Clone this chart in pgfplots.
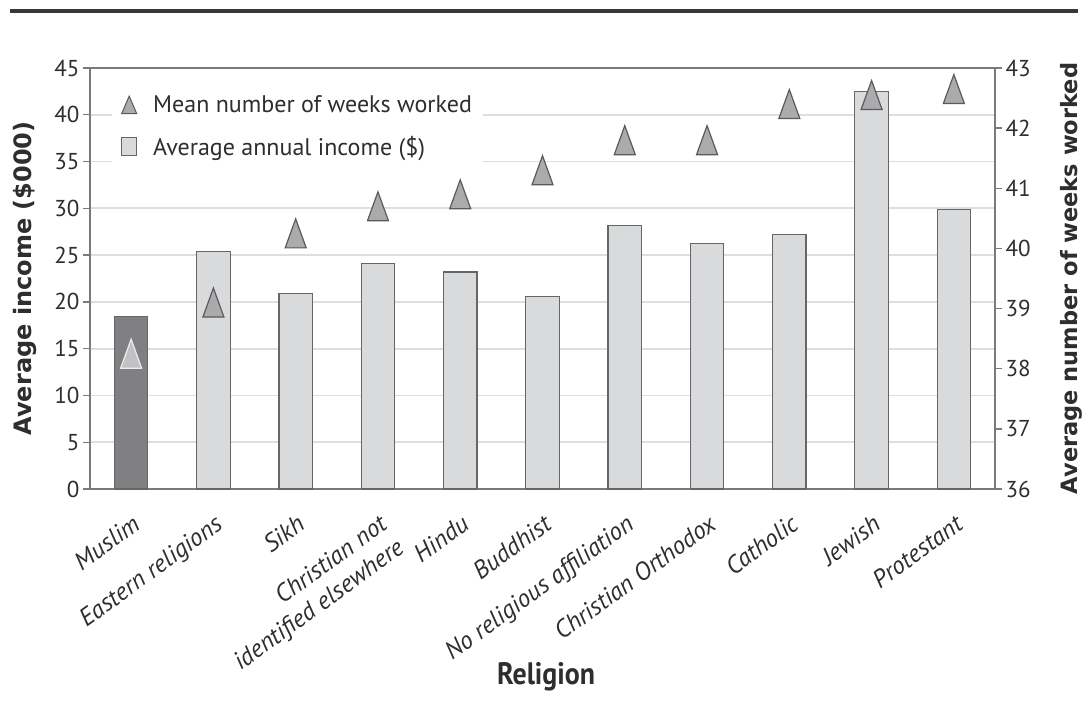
\documentclass[border=0pt]{standalone}
\usepackage{fontspec}
\setmainfont{PT Sans}
\newfontfamily\labelfont{DejaVu Sans}
\usepackage{graphicx}
\usepackage{pgfplots}
\usepackage{pgfplotstable}
\pgfplotsset{compat=1.18}

\definecolor{txt}{HTML}{2E2E2E}
\definecolor{rule}{HTML}{383838}
\definecolor{axisgray}{HTML}{7A7A7A}
\definecolor{gridgray}{HTML}{DEDEDE}
\definecolor{barfill}{HTML}{D9DADC}
\definecolor{baredge}{HTML}{666666}
\definecolor{muslimfill}{HTML}{808082}
\definecolor{trifill}{HTML}{ABABAD}
\definecolor{triedge}{HTML}{5A5A5A}
\definecolor{trilight}{HTML}{C2C2C4}
\definecolor{triedgelight}{HTML}{ECECEC}

% tall isosceles triangle, centred on the data point
\pgfdeclareplotmark{tall triangle}{%
  \pgfpathmoveto{\pgfpoint{0bp}{14.5bp}}%
  \pgfpathlineto{\pgfpoint{-10.5bp}{-14.5bp}}%
  \pgfpathlineto{\pgfpoint{10.5bp}{-14.5bp}}%
  \pgfpathclose
  \pgfusepathqfillstroke}

% income in $000 and mean weeks worked, by religion
\pgfplotstableread{
x income weeks
0 18.4 38.25
1 25.4 39.1
2 20.9 40.25
3 24.1 40.7
4 23.2 40.9
5 20.6 41.3
6 28.2 41.8
7 26.2 41.8
8 27.2 42.4
9 42.5 42.55
10 29.9 42.65
}\religiondata

\pgfplotsset{
  common/.style={
    width=905bp, height=421bp, scale only axis,
    at={(90bp,-489bp)}, anchor=south west,
    xmin=-0.5, xmax=10.5,
    tick align=outside, major tick length=7bp,
    axis line style={axisgray, line width=1.3bp},
    tick style={axisgray, line width=1.3bp},
    ticklabel style={font=\fontsize{23bp}{26bp}\selectfont, text=txt},
    /pgf/number format/assume math mode=true,
    label style={text=txt},
  },
}

\begin{document}
\begin{tikzpicture}
\path[use as bounding box] (0,0) rectangle (1085bp,-723bp);
\draw[rule, line width=4bp] (10bp,-11bp) -- (1078bp,-11bp);

\begin{axis}[common,
  ymin=0, ymax=45, ytick={0,5,...,45}, ytick pos=left,
  ymajorgrids, grid style={gridgray, line width=1.8bp},
  xtick={0,...,10}, xtick style={draw=none},
  xticklabels={Muslim, Eastern religions, Sikh, {Christian not\\identified elsewhere}, Hindu, Buddhist, No religious affiliation, Christian Orthodox, Catholic, Jewish, Protestant},
  xticklabel style={rotate=36, anchor=north east, align=right,
    font=\fontsize{25bp}{29bp}\selectfont\itshape, inner sep=1bp,
    xshift=-9bp, yshift=-13bp},
  ylabel={Average income (\$000)},
  ylabel style={at={(axis description cs:-0.0718,0.5)}, anchor=center, rotate=0,
    font=\fontsize{24bp}{28bp}\labelfont\bfseries},
  xlabel={\scalebox{0.9}[1]{Religion}},
  xlabel style={at={(axis description cs:0.504,-0.445)}, anchor=center,
    font=\fontsize{31bp}{34bp}\selectfont\bfseries},
]
\addplot[ybar, bar width=33.5bp, bar shift=0pt, fill=muslimfill, draw=baredge, line width=1.2bp]
  table[x=x, y=income, restrict x to domain=0:0] {\religiondata};
\addplot[ybar, bar width=33.5bp, bar shift=0pt, fill=barfill, draw=baredge, line width=1.2bp]
  table[x=x, y=income, restrict x to domain=1:10] {\religiondata};
\end{axis}

\begin{axis}[common,
  ymin=36, ymax=43, ytick={36,...,43},
  axis x line=none, axis y line*=right, clip=false,
  ylabel={Average number of weeks worked},
  ylabel style={at={(axis description cs:1.084,0.5)}, anchor=center, rotate=0,
    font=\fontsize{22.5bp}{27bp}\labelfont\bfseries},
  legend style={at={(axis description cs:0.0243,0.958)}, anchor=north west,
    draw=none, fill=white, text=txt, inner xsep=9bp, inner ysep=8bp,
    font=\fontsize{24bp}{28bp}\selectfont, row sep=18bp,
    /tikz/every odd column/.append style={column sep=14bp}},
  legend cell align=left,
]
\addlegendimage{legend image code/.code={\draw[fill=trifill, draw=triedge, line width=1bp] (0bp,-8.5bp) -- (15bp,-8.5bp) -- (7.5bp,9bp) -- cycle;}}
\addlegendentry{Mean number of weeks worked}
\addlegendimage{legend image code/.code={\draw[fill=barfill, draw=baredge, line width=1bp] (0bp,-8.5bp) rectangle (15bp,9bp);}}
\addlegendentry{Average annual income (\$)}

\addplot[forget plot, only marks, mark=tall triangle,
  mark options={fill=trilight, draw=triedgelight, line width=1.2bp}]
  table[x=x, y=weeks, restrict x to domain=0:0] {\religiondata};
\addplot[forget plot, only marks, mark=tall triangle,
  mark options={fill=trifill, draw=triedge, line width=1.2bp}]
  table[x=x, y=weeks, restrict x to domain=1:10] {\religiondata};
\end{axis}
\end{tikzpicture}
\end{document}
